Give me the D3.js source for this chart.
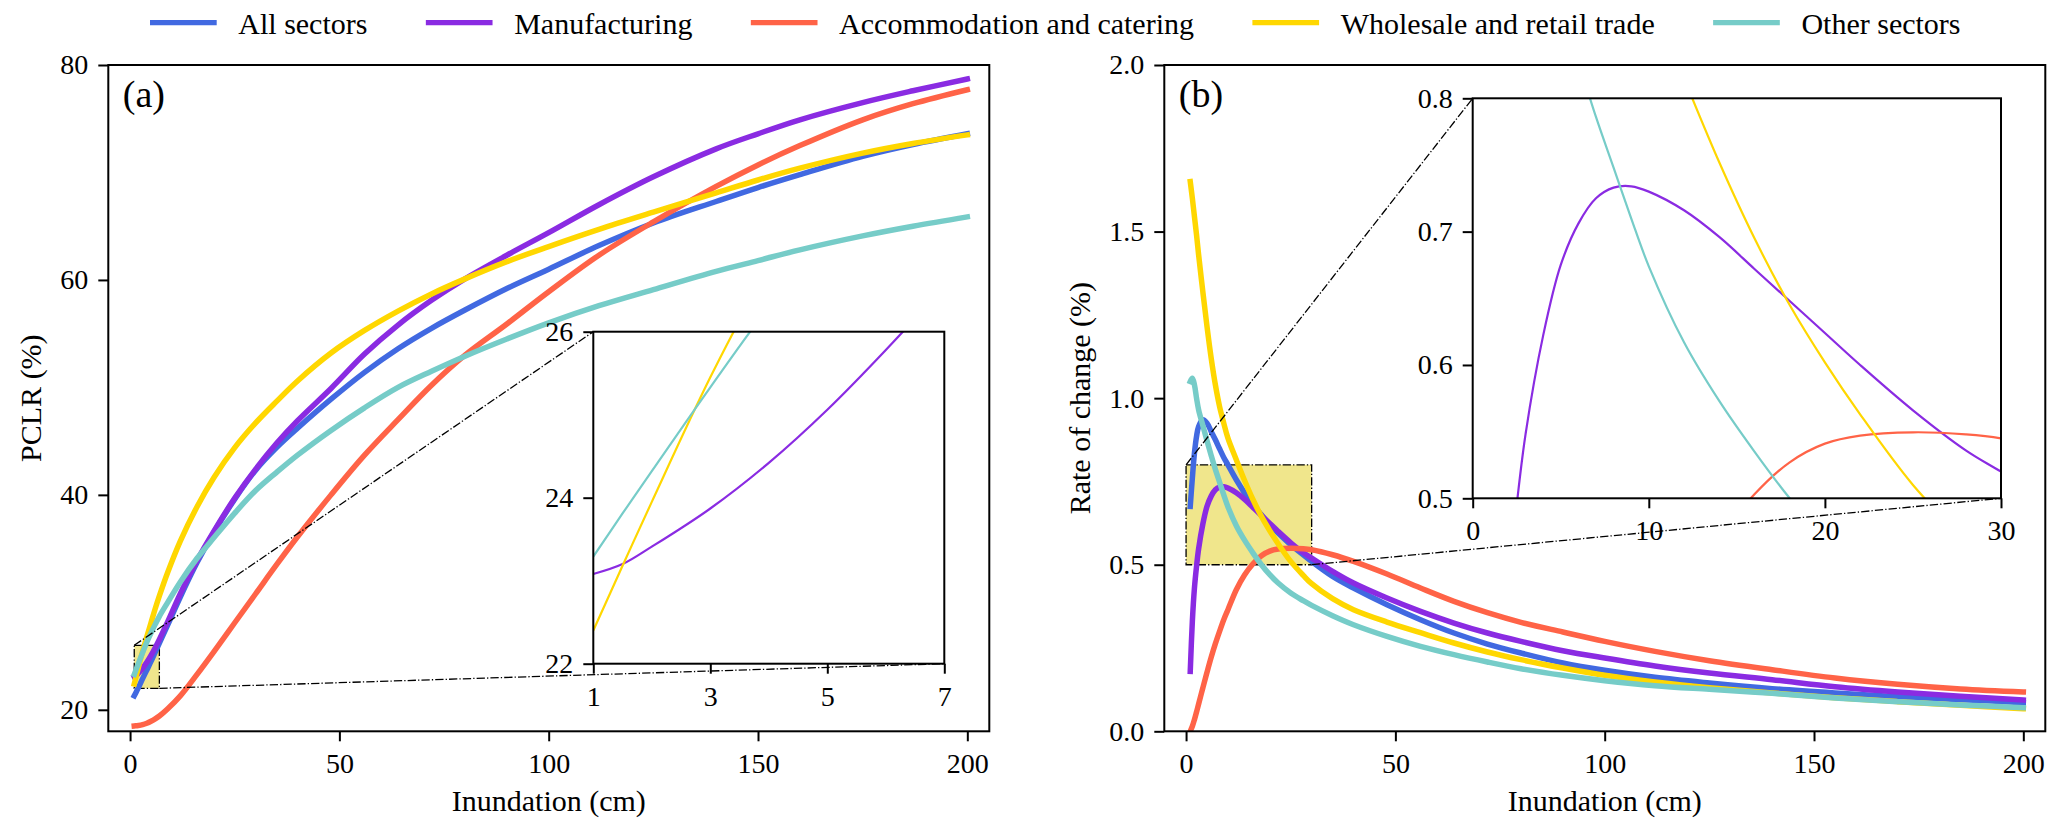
<!DOCTYPE html>
<html>
<head>
<meta charset="utf-8">
<script src="https://cdn.jsdelivr.net/npm/d3@7"></script>
<style>
  body { margin: 0; background: #fff; }
  svg text { font-family: "Liberation Serif", "DejaVu Serif", "Times New Roman", serif; fill: #000; }
</style>
</head>
<body>
<svg id="chart" width="2067" height="833" font-family="Liberation Serif, DejaVu Serif, serif"></svg>
<script>
// ---- data ----
const sectors = ["All sectors", "Manufacturing", "Accommodation and catering",
                 "Wholesale and retail trade", "Other sectors"];

// (a) PCLR (%) against inundation depth (cm)
const depthA = [1, 1.5, 2, 3, 4, 5, 6, 7, 9, 12, 16, 20, 25, 30, 35, 40, 48, 56, 64, 72,
                80, 90, 100, 112, 125, 140, 150, 160, 175, 187, 200];
const pclrAll   = [21.3, 21.68, 22.07, 22.9, 23.7, 24.5, 25.35, 26.2, 27.9, 30.5, 33.7, 36.5, 39.6, 42.3, 44.4, 46.2,
                   48.9, 51.4, 53.6, 55.5, 57.2, 59.2, 61.0, 63.2, 65.3, 67.3, 68.6, 69.8, 71.5, 72.6, 73.6];
const pclrManu  = [23.08, 23.2, 23.41, 23.87, 24.42, 25.06, 25.78, 26.55, 28.2, 30.8, 33.9, 36.6, 39.7, 42.4, 44.8, 46.9,
                   49.9, 53.1, 55.8, 58.1, 60.1, 62.3, 64.4, 67.0, 69.6, 72.2, 73.6, 74.9, 76.5, 77.6, 78.7];
const pclrAccom = [18.5, 18.52, 18.54, 18.62, 18.75, 18.93, 19.15, 19.42, 20.1, 21.3, 23.3, 25.4, 28.1, 30.8, 33.5, 36.1,
                   40.0, 43.7, 47.0, 50.2, 53.0, 55.9, 58.9, 62.3, 65.4, 68.7, 70.7, 72.5, 74.9, 76.4, 77.7];
const pclrWhole = [22.4, 23.18, 23.95, 25.45, 26.8, 28.1, 29.4, 30.6, 32.8, 35.7, 38.9, 41.6, 44.4, 46.7, 48.7, 50.6,
                   53.2, 55.3, 57.1, 58.7, 60.1, 61.7, 63.1, 64.7, 66.3, 68.1, 69.3, 70.4, 71.8, 72.7, 73.5];
const pclrOther = [23.29, 23.81, 24.32, 25.33, 26.3, 27.15, 27.95, 28.7, 30.0, 31.9, 34.1, 36.0, 38.3, 40.4, 42.1, 43.7,
                   46.0, 48.1, 50.0, 51.5, 52.9, 54.5, 56.0, 57.6, 59.1, 60.8, 61.8, 62.8, 64.1, 65.0, 65.87];

// (b) rate of change (%) against inundation depth (cm)
const depthB = [1, 1.5, 2, 2.5, 3, 4, 5, 6, 7, 8, 9, 10, 12, 14, 16, 18, 20, 22, 25, 28, 30, 35, 40, 48, 56, 64,
                72, 80, 90, 100, 112, 125, 140, 155, 170, 185, 200];
const rateAll   = [0.675, 0.76, 0.835, 0.885, 0.915, 0.935, 0.925, 0.9, 0.875, 0.848, 0.822, 0.80, 0.755, 0.715,
                   0.68, 0.65, 0.62, 0.595, 0.56, 0.53, 0.51, 0.465, 0.43, 0.38, 0.335, 0.295, 0.262, 0.235,
                   0.205, 0.183, 0.162, 0.145, 0.128, 0.115, 0.104, 0.095, 0.086];
const rateManu  = [0.18, 0.33, 0.43, 0.495, 0.548, 0.622, 0.675, 0.706, 0.725, 0.733, 0.734, 0.73, 0.716, 0.696,
                   0.672, 0.648, 0.624, 0.60, 0.566, 0.536, 0.52, 0.48, 0.445, 0.40, 0.36, 0.325, 0.295, 0.27,
                   0.242, 0.22, 0.196, 0.175, 0.155, 0.134, 0.118, 0.105, 0.094];
const rateAccom = [0.0, 0.015, 0.035, 0.058, 0.082, 0.13, 0.177, 0.222, 0.263, 0.30, 0.335, 0.365, 0.425, 0.47,
                   0.503, 0.527, 0.541, 0.547, 0.5495, 0.548, 0.545, 0.53, 0.51, 0.472, 0.43, 0.39, 0.356, 0.327,
                   0.298, 0.27, 0.24, 0.212, 0.185, 0.16, 0.141, 0.127, 0.118];
const rateWhole = [1.65, 1.60, 1.545, 1.49, 1.43, 1.32, 1.215, 1.12, 1.04, 0.975, 0.925, 0.88, 0.815, 0.752,
                   0.695, 0.645, 0.602, 0.563, 0.51, 0.468, 0.443, 0.398, 0.365, 0.328, 0.296, 0.265, 0.238, 0.215,
                   0.19, 0.168, 0.148, 0.131, 0.115, 0.101, 0.089, 0.078, 0.068];
const rateOther = [1.05, 1.06, 1.04, 1.0, 0.965, 0.918, 0.872, 0.828, 0.786, 0.748, 0.71, 0.674, 0.617, 0.573,
                   0.535, 0.50, 0.47, 0.445, 0.415, 0.392, 0.378, 0.347, 0.32, 0.285, 0.255, 0.23, 0.208, 0.188,
                   0.168, 0.152, 0.137, 0.126, 0.114, 0.1, 0.089, 0.079, 0.071];

// ticks and zoom windows
const xTicks = [0, 50, 100, 150, 200];
const pclrTicks = [20, 40, 60, 80];
const rateTicks = [0, 0.5, 1.0, 1.5, 2.0];
const zoomA = { x: [1, 7], y: [22, 26], xt: [1, 3, 5, 7], yt: [22, 24, 26], show: [1, 3, 4] };
const zoomB = { x: [0, 30], y: [0.5, 0.8], xt: [0, 10, 20, 30], yt: [0.5, 0.6, 0.7, 0.8], show: [1, 2, 3, 4] };

const colors = ["#4169e1", "#8a2be2", "#ff6347", "#ffd700", "#76ccc8"];
const pclrSeries = [pclrAll, pclrManu, pclrAccom, pclrWhole, pclrOther];
const rateSeries = [rateAll, rateManu, rateAccom, rateWhole, rateOther];

// ---- layout ----
const svg = d3.select("#chart");
const serif = "Liberation Serif, DejaVu Serif, serif";
const dashDot = "8.3,2.1,1.3,2.1";
const plotTop = 65, plotBottom = 731.3;

function drawAxes(g, xs, ys, xt, yt, fx, fy) {
  const [x0, x1] = xs.range(), [y0, y1] = ys.range();
  const ax = g.append("g").attr("transform", `translate(0,${y0})`)
    .call(d3.axisBottom(xs).tickValues(xt).tickFormat(fx).tickSize(10).tickPadding(12));
  const ay = g.append("g").attr("transform", `translate(${x0},0)`)
    .call(d3.axisLeft(ys).tickValues(yt).tickFormat(fy).tickSize(10).tickPadding(10));
  [ax, ay].forEach(a => {
    a.attr("font-size", 28).attr("font-family", serif);
    a.select(".domain").remove();
    a.selectAll("line").attr("stroke", "#000").attr("stroke-width", 2);
    a.selectAll("text").attr("fill", "#000");
  });
  g.append("rect")
    .attr("x", x0).attr("y", y1)
    .attr("width", x1 - x0).attr("height", y0 - y1)
    .attr("fill", "none").attr("stroke", "#000").attr("stroke-width", 2);
}

function seriesLine(xs, ys) {
  return d3.line().x(d => xs(d[0])).y(d => ys(d[1])).curve(d3.curveCatmullRom.alpha(0.5));
}

function drawPanel(id, box, depth, series, yDomain, yTicks, fy, zoom, inset, label, yLabel, yLabelX) {
  const g = svg.append("g");
  const xs = d3.scaleLinear().domain([-5.2, 205.25]).range([box.left, box.right]);
  const ys = d3.scaleLinear().domain(yDomain).range([plotBottom, plotTop]);

  g.append("clipPath").attr("id", "clip-" + id)
    .append("rect").attr("x", box.left).attr("y", plotTop)
    .attr("width", box.right - box.left).attr("height", plotBottom - plotTop);

  // zoom window marker
  g.append("rect")
    .attr("x", xs(zoom.x[0])).attr("y", ys(zoom.y[1]))
    .attr("width", xs(zoom.x[1]) - xs(zoom.x[0]))
    .attr("height", ys(zoom.y[0]) - ys(zoom.y[1]))
    .attr("fill", "#f0e68c").attr("stroke", "#000")
    .attr("stroke-width", 1.3).attr("stroke-dasharray", dashDot);

  const line = seriesLine(xs, ys);
  const curves = g.append("g").attr("clip-path", `url(#clip-${id})`);
  series.forEach((vals, i) => {
    curves.append("path")
      .datum(depth.map((d, j) => [d, vals[j]]))
      .attr("d", line)
      .attr("fill", "none").attr("stroke", colors[i])
      .attr("stroke-width", 5.5).attr("stroke-linecap", "square")
      .attr("stroke-linejoin", "round");
  });

  // connectors: upper-left corner and lower-right corner
  const links = [
    [[xs(zoom.x[0]), ys(zoom.y[1])], [inset.left, inset.top]],
    [[xs(zoom.x[1]), ys(zoom.y[0])], [inset.right, inset.bottom]]
  ];
  links.forEach(([a, b]) => {
    g.append("line")
      .attr("x1", a[0]).attr("y1", a[1]).attr("x2", b[0]).attr("y2", b[1])
      .attr("stroke", "#000").attr("stroke-width", 1.3).attr("stroke-dasharray", dashDot);
  });

  drawAxes(g, xs, ys, xTicks, yTicks, d3.format("d"), fy);

  // inset
  const ig = g.append("g");
  const ixs = d3.scaleLinear().domain(zoom.x).range([inset.left, inset.right]);
  const iys = d3.scaleLinear().domain(zoom.y).range([inset.bottom, inset.top]);
  ig.append("rect")
    .attr("x", inset.left).attr("y", inset.top)
    .attr("width", inset.right - inset.left).attr("height", inset.bottom - inset.top)
    .attr("fill", "#fff");
  ig.append("clipPath").attr("id", "iclip-" + id)
    .append("rect").attr("x", inset.left).attr("y", inset.top)
    .attr("width", inset.right - inset.left).attr("height", inset.bottom - inset.top);
  const iline = seriesLine(ixs, iys);
  const icurves = ig.append("g").attr("clip-path", `url(#iclip-${id})`);
  zoom.show.forEach(i => {
    icurves.append("path")
      .datum(depth.map((d, j) => [d, series[i][j]]))
      .attr("d", iline)
      .attr("fill", "none").attr("stroke", colors[i]).attr("stroke-width", 2.2);
  });
  const ify = zoom.yt.some(v => v % 1 !== 0) ? d3.format(".1f") : d3.format("d");
  drawAxes(ig, ixs, iys, zoom.xt, zoom.yt, d3.format("d"), ify);

  // panel label and axis titles
  g.append("text").attr("x", box.left + 14.5).attr("y", 107)
    .attr("font-family", serif).attr("font-size", 38).text(label);
  g.append("text")
    .attr("x", (box.left + box.right) / 2).attr("y", 811)
    .attr("text-anchor", "middle").attr("font-family", serif).attr("font-size", 30)
    .text("Inundation (cm)");
  g.append("text")
    .attr("transform", `translate(${yLabelX},${(plotTop + plotBottom) / 2}) rotate(-90)`)
    .attr("text-anchor", "middle").attr("font-family", serif).attr("font-size", 30)
    .text(yLabel);
}

drawPanel("a", { left: 108.3, right: 989.3 }, depthA, pclrSeries, [18, 80], pclrTicks, d3.format("d"),
          zoomA, { left: 593.3, right: 944.3, top: 331.7, bottom: 663.7 }, "(a)", "PCLR (%)", 41);

drawPanel("b", { left: 1164.3, right: 2045.3 }, depthB, rateSeries, [0, 2], rateTicks, d3.format(".1f"),
          zoomB, { left: 1472.7, right: 2001, top: 98.3, bottom: 498.3 }, "(b)", "Rate of change (%)", 1090);

// legend across the top
const legend = svg.append("g");
let lx = 150;
sectors.forEach((name, i) => {
  legend.append("line")
    .attr("x1", lx).attr("x2", lx + 66.7).attr("y1", 22.7).attr("y2", 22.7)
    .attr("stroke", colors[i]).attr("stroke-width", 5.3);
  const t = legend.append("text")
    .attr("x", lx + 88.3).attr("y", 34.3)
    .attr("font-family", serif).attr("font-size", 30).text(name);
  lx += 88.3 + t.node().getComputedTextLength() + 58.4;
});
</script>
</body>
</html>
